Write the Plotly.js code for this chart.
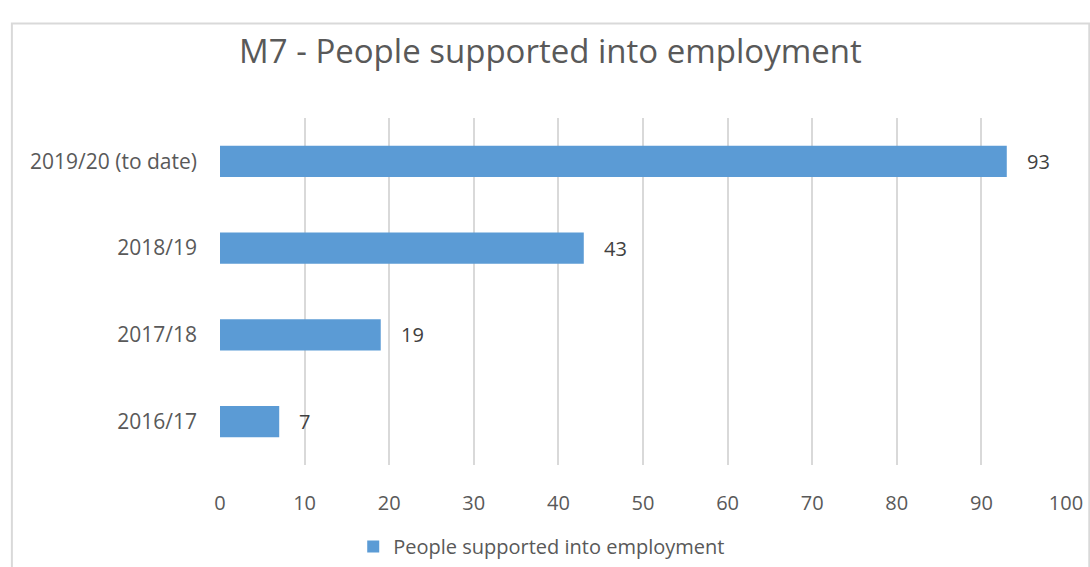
<!DOCTYPE html>
<html>
<head>
<meta charset="utf-8">
<script src="https://cdn.plot.ly/plotly-3.0.1.min.js"></script>
<style>
html,body{margin:0;padding:0;background:#fff;}
#chart{width:1090px;height:567px;}
</style>
</head>
<body>
<div id="chart"></div>
<script>
const categories = ["2016/17", "2017/18", "2018/19", "2019/20 (to date)"];
const values = [7, 19, 43, 93];
const seriesName = "People supported into employment";
const tickVals = [0, 10, 20, 30, 40, 50, 60, 70, 80, 90, 100];
const chartTitle = "M7 - People supported into employment";

const font = "Open Sans, Liberation Sans, sans-serif";
const textColor = "#595959";

const trace = {
  type: "bar",
  orientation: "h",
  x: values,
  y: categories,
  name: seriesName,
  marker: {color: "#5b9bd5"},
  width: 0.36,
  showlegend: true,
  hoverinfo: "x+y"
};

const annotations = values.map((v, i) => ({
  x: v, y: categories[i], xref: "x", yref: "y",
  text: String(v), showarrow: false,
  xanchor: "left", yanchor: "middle", xshift: 18,
  font: {family: font, size: 20, color: "#404040"}
}));

const layout = {
  width: 1090,
  height: 567,
  margin: {l: 220, r: 24, t: 118, b: 102},
  paper_bgcolor: "#ffffff",
  plot_bgcolor: "#ffffff",
  font: {family: font, color: textColor, size: 20},
  title: {
    text: chartTitle,
    font: {family: font, size: 33, color: textColor},
    x: 0.505, xanchor: "center",
    y: 0.91, yanchor: "middle"
  },
  xaxis: {
    range: [0, 100],
    tickvals: tickVals,
    ticktext: tickVals.map(String),
    showgrid: true,
    gridcolor: "#d9d9d9",
    gridwidth: 2,
    zeroline: false,
    showline: false,
    ticks: "",
    ticklabelstandoff: 24,
    tickfont: {family: font, size: 20, color: textColor},
    fixedrange: true
  },
  yaxis: {
    type: "category",
    categoryorder: "array",
    categoryarray: categories,
    showgrid: false,
    zeroline: false,
    showline: false,
    ticks: "",
    ticklabelstandoff: 22,
    tickfont: {family: font, size: 21, color: textColor},
    fixedrange: true
  },
  bargap: 0.64,
  annotations: annotations,
  legend: {
    orientation: "h",
    xref: "container", yref: "container",
    x: 0.497, xanchor: "center",
    y: 0.036, yanchor: "middle",
    font: {family: font, size: 20, color: textColor},
    itemwidth: 30
  },
  shapes: [
    {type: "rect", xref: "paper", yref: "paper",
     x0: -0.246, x1: 1.0275, y0: 1.272, y1: -0.35,
     line: {color: "#d9d9d9", width: 2}, fillcolor: "rgba(0,0,0,0)", layer: "below"}
  ]
};

Plotly.newPlot("chart", [trace], layout, {displayModeBar: false, staticPlot: true});
</script>
</body>
</html>
